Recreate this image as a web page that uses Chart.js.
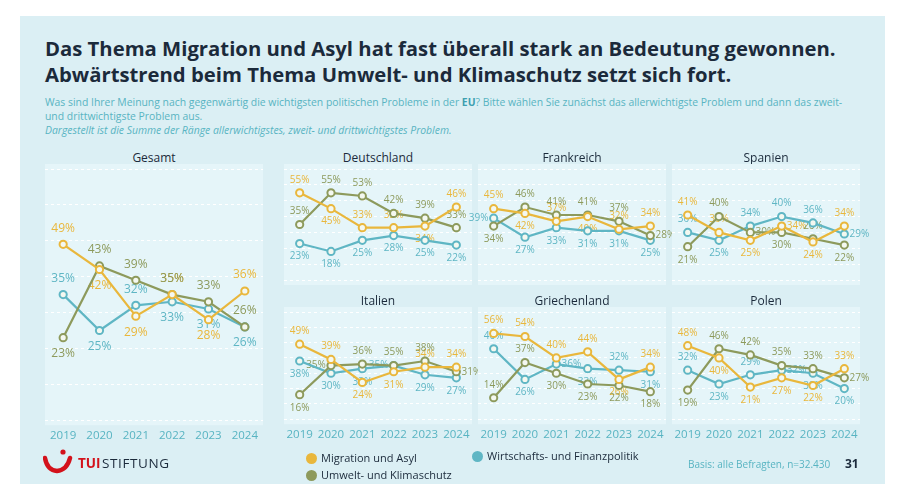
<!DOCTYPE html>
<html lang="de">
<head>
<meta charset="utf-8">
<title>Migration und Asyl</title>
<script src="https://cdn.jsdelivr.net/npm/chart.js@4.4.0/dist/chart.umd.min.js"></script>
<style>
body { margin: 0; width: 900px; height: 498px; background: #fff; position: relative; overflow: hidden; font-family: 'Open Sans', sans-serif; }
.bg { position: absolute; left: 20px; top: 16px; width: 865px; height: 468px; background: #dbeff4; }
h1 { position: absolute; left: 45px; top: 35px; margin: 0; font-size: 20.3px; line-height: 26px; color: #1b2a3b; font-weight: 700; letter-spacing: 0; }
.sub { position: absolute; left: 45px; top: 95px; width: 840px; font-size: 10.4px; line-height: 14px; color: #58b4c2; }
.sub b { font-weight: 700; color: #3e9fb0; }
.sub i { display: block; }
.ttl { position: absolute; font-size: 12px; color: #1b2a3b; text-align: center; }
.box { position: absolute; line-height: 0; }
.legend { position: absolute; font-size: 11px; color: #1b2a3b; }
.dot { display: inline-block; width: 11px; height: 11px; border-radius: 50%; vertical-align: -2px; margin-right: 4px; }
.logo { position: absolute; left: 43px; top: 448px; }
.basis { position: absolute; left: 688px; top: 457px; font-size: 10px; color: #58b4c2; }
.page { position: absolute; left: 845px; top: 455px; font-size: 12px; font-weight: 700; color: #1b2a3b; }
</style>
</head>
<body>
<div class="bg"></div>
<h1>Das Thema Migration und Asyl hat fast überall stark an Bedeutung gewonnen.<br>Abwärtstrend beim Thema Umwelt- und Klimaschutz setzt sich fort.</h1>
<div class="sub">Was sind Ihrer Meinung nach gegenwärtig die wichtigsten politischen Probleme in der <b>EU</b>? Bitte wählen Sie zunächst das allerwichtigste Problem und dann das zweit-<br>und drittwichtigste Problem aus.<i>Dargestellt ist die Summe der Ränge allerwichtigstes, zweit- und drittwichtigstes Problem.</i></div>

<div id="charts"></div>

<div class="legend" style="left:306px;top:450px"><span class="dot" style="background:#e9b73c"></span>Migration und Asyl</div>
<div class="legend" style="left:306px;top:467px"><span class="dot" style="background:#8d9a5c"></span>Umwelt- und Klimaschutz</div>
<div class="legend" style="left:472px;top:448px"><span class="dot" style="background:#5fb6c4"></span>Wirtschafts- und Finanzpolitik</div>

<div class="logo">
  <svg width="150" height="26" viewBox="0 0 150 26">
    <path d="M2 10 Q4 22 14 23 Q24 22 27 10" fill="none" stroke="#d3121b" stroke-width="4.5" stroke-linecap="round"/>
    <circle cx="20" cy="4" r="2.6" fill="#d3121b"/>
    <text x="35" y="20" font-family="Open Sans" font-size="13.5" font-weight="700" fill="#d3121b">TUI</text>
    <text x="59" y="20" font-family="Open Sans" font-size="13.5" letter-spacing="0.6" fill="#1b2a3b">STIFTUNG</text>
  </svg>
</div>
<div class="basis">Basis: alle Befragten, n=32.430</div>
<div class="page">31</div>

<script>
const years = ['2019', '2020', '2021', '2022', '2023', '2024'];

// Gesamt
const gesamtMigration = [49, 42, 29, 35, 28, 36];
const gesamtUmwelt = [23, 43, 39, 35, 33, 26];
const gesamtWirtschaft = [35, 25, 32, 33, 31, 26];
// Deutschland
const deMigration = [55, 45, 33, 33, 34, 46];
const deUmwelt = [35, 55, 53, 42, 39, 33];
const deWirtschaft = [23, 18, 25, 28, 25, 22];
// Frankreich
const frMigration = [45, 42, 37, 40, 32, 34];
const frUmwelt = [34, 46, 41, 41, 37, 28];
const frWirtschaft = [39, 27, 33, 31, 31, 25];
// Spanien
const esMigration = [41, 30, 25, 34, 24, 34];
const esUmwelt = [21, 40, 30, 30, 26, 22];
const esWirtschaft = [30, 25, 34, 40, 36, 29];
// Italien
const itMigration = [49, 39, 24, 31, 34, 34];
const itUmwelt = [16, 35, 36, 35, 38, 31];
const itWirtschaft = [38, 30, 33, 35, 29, 27];
// Griechenland
const grMigration = [56, 54, 40, 44, 26, 34];
const grUmwelt = [14, 37, 30, 23, 22, 18];
const grWirtschaft = [46, 26, 36, 33, 32, 31];
// Polen
const plMigration = [48, 40, 21, 27, 22, 33];
const plUmwelt = [19, 46, 42, 35, 33, 27];
const plWirtschaft = [32, 23, 29, 32, 30, 20];

const seriesNames = ['Migration und Asyl', 'Umwelt- und Klimaschutz', 'Wirtschafts- und Finanzpolitik'];
const seriesColors = ['#e9b73c', '#8d9a5c', '#5fb6c4'];

// Lage der Beschriftung je Punkt: a = oben, b = unten, l = links, r = rechts
const panels = [
    { title: 'Gesamt', data: [gesamtMigration, gesamtUmwelt, gesamtWirtschaft], pos: ['abbaba', 'baaaaa', 'ababbb'],
      left: 45, top: 161, width: 218, height: 291, big: true, years: true },
    { title: 'Deutschland', data: [deMigration, deUmwelt, deWirtschaft], pos: ['abaaba', 'aaaaaa', 'bbbbbb'],
      left: 284, top: 161, width: 188, height: 127 },
    { title: 'Frankreich', data: [frMigration, frUmwelt, frWirtschaft], pos: ['ababaa', 'baaaar', 'lbbbbb'],
      left: 478, top: 161, width: 188, height: 127 },
    { title: 'Spanien', data: [esMigration, esUmwelt, esWirtschaft], pos: ['aabrba', 'barbab', 'abaaar'],
      left: 672, top: 161, width: 188, height: 127 },
    { title: 'Italien', data: [itMigration, itUmwelt, itWirtschaft], pos: ['aabbaa', 'blaaar', 'bbblbb'],
      left: 284, top: 304, width: 188, height: 147, years: true },
    { title: 'Griechenland', data: [grMigration, grUmwelt, grWirtschaft], pos: ['aaaaba', 'aabbbb', 'abrbab'],
      left: 478, top: 304, width: 188, height: 147, years: true },
    { title: 'Polen', data: [plMigration, plUmwelt, plWirtschaft], pos: ['abbbba', 'baaaar', 'abarbb'],
      left: 672, top: 304, width: 188, height: 147, years: true }
];

const sidePad = 14;

// Hintergrund der Zeichenfläche
const panelBackground = {
    id: 'panelBackground',
    beforeDraw(chart) {
        const { ctx, chartArea } = chart;
        ctx.save();
        ctx.fillStyle = '#e5f5f9';
        ctx.fillRect(chartArea.left, chartArea.top - 5, chartArea.right - chartArea.left, chartArea.bottom - chartArea.top + 10);
        ctx.restore();
    }
};

// Prozentwerte an den Punkten
const valueLabels = {
    id: 'valueLabels',
    beforeDatasetsDraw(chart, args, opts) {
        const ctx = chart.ctx;
        const big = opts.big;
        const off = big ? 16 : 13;
        ctx.save();
        ctx.font = (big ? '12px' : '10px') + " 'Open Sans'";
        ctx.textAlign = 'center';
        ctx.textBaseline = 'middle';
        chart.data.datasets.forEach((ds, i) => {
            const meta = chart.getDatasetMeta(i);
            const pos = opts.pos[i];
            ctx.fillStyle = ds.borderColor;
            meta.data.forEach((pt, j) => {
                let dx = 0, dy = 0;
                const p = pos[j];
                if (p === 'a') dy = -off;
                if (p === 'b') dy = off;
                if (p === 'r') dx = off + 2;
                if (p === 'l') dx = -off - 2;
                ctx.fillText(ds.data[j] + '%', pt.x + dx, pt.y + dy);
            });
        });
        ctx.restore();
    }
};

const holder = document.getElementById('charts');

panels.forEach(p => {
    const title = document.createElement('div');
    title.className = 'ttl';
    title.style.left = p.left + 'px';
    title.style.width = p.width + 'px';
    title.style.top = (p.top - 12) + 'px';
    title.textContent = p.title;
    holder.appendChild(title);

    const box = document.createElement('div');
    box.className = 'box';
    box.style.left = (p.left - sidePad) + 'px';
    box.style.top = p.top + 'px';
    const canvas = document.createElement('canvas');
    canvas.width = p.width + 2 * sidePad;
    canvas.height = p.height;
    canvas.style.display = 'block';
    box.appendChild(canvas);
    holder.appendChild(box);

    new Chart(canvas, {
        type: 'line',
        data: {
            labels: years,
            datasets: p.data.map((values, i) => ({
                label: seriesNames[i],
                data: values,
                borderColor: seriesColors[i],
                backgroundColor: '#f4f8f0',
                pointBackgroundColor: '#f4f8f0',
                pointBorderColor: seriesColors[i],
                pointRadius: 3.6,
                pointBorderWidth: 2,
                borderWidth: 2.2,
                tension: 0
            }))
        },
        options: {
            responsive: false,
            animation: false,
            clip: false,
            layout: { autoPadding: false, padding: { top: 8, bottom: p.years ? 0 : 8, left: sidePad, right: sidePad } },
            plugins: {
                legend: { display: false },
                tooltip: { enabled: false },
                valueLabels: { pos: p.pos, big: !!p.big }
            },
            scales: {
                x: {
                    offset: true,
                    grid: { display: false, drawTicks: false },
                    border: { display: false },
                    ticks: {
                        display: !!p.years,
                        color: '#58b4c2',
                        padding: 9,
                        autoSkip: false,
                        maxRotation: 0,
                        minRotation: 0,
                        font: { family: 'Open Sans', size: 11.5 }
                    }
                },
                y: {
                    min: 0,
                    max: 70,
                    ticks: { display: false, stepSize: 10 },
                    border: { display: false, dash: [3, 3] },
                    grid: { color: '#ffffff', lineWidth: 1, drawTicks: false },
                    afterFit(scale) { scale.width = 0; }
                }
            }
        },
        plugins: [panelBackground, valueLabels]
    });
});
</script>
</body>
</html>
